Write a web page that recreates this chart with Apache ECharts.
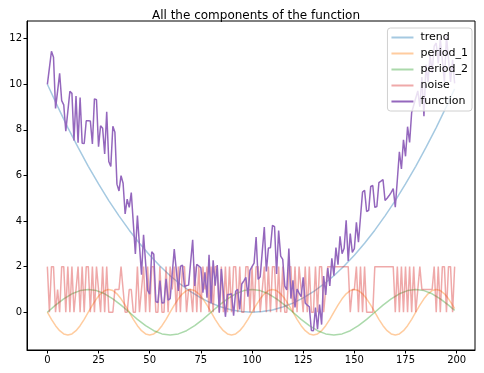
<!DOCTYPE html>
<html><head><meta charset="utf-8">
<script src="https://cdn.jsdelivr.net/npm/echarts@6/dist/echarts.min.js"></script>
<style>html,body{margin:0;padding:0;background:#fff}#c{width:484px;height:373px}</style>
</head><body><div id="c"></div>
<script>
const titleText = 'All the components of the function';
const seriesNames = ['trend', 'period_1', 'period_2', 'noise', 'function'];
const xTicks = [0, 25, 50, 75, 100, 125, 150, 175, 200];
const yTicks = [0, 2, 4, 6, 8, 10, 12];

const trendX = [0,5,10,15,20,25,30,35,40,45,50,55,60,65,70,75,80,85,90,95,100,105,110,115,120,125,130,135,140,145,150,155,160,165,170,175,180,185,190,195,199];
const trendY = [10,9.03,8.1,7.23,6.4,5.63,4.9,4.23,3.6,3.03,2.5,2.03,1.6,1.23,0.9,0.63,0.4,0.23,0.1,0.03,0,0.03,0.1,0.23,0.4,0.63,0.9,1.23,1.6,2.03,2.5,3.03,3.6,4.23,4.9,5.63,6.4,7.23,8.1,9.03,9.8];

const period1X = [0,2,4,6,8,10,12,14,16,18,20,22,24,26,28,30,32,34,36,38,40,42,44,46,48,50,52,54,56,58,60,62,64,66,68,70,72,74,76,78,80,82,84,86,88,90,92,94,96,98,100,102,104,106,108,110,112,114,116,118,120,122,124,126,128,130,132,134,136,138,140,142,144,146,148,150,152,154,156,158,160,162,164,166,168,170,172,174,176,178,180,182,184,186,188,190,192,194,196,198,199];
const period1Y = [
0,-0.31,-0.59,-0.81,-0.95,-1,-0.95,-0.81,-0.59,-0.31,0,0.31,0.59,0.81,0.95,1,0.95,0.81,0.59,0.31,
0,-0.31,-0.59,-0.81,-0.95,-1,-0.95,-0.81,-0.59,-0.31,0,0.31,0.59,0.81,0.95,1,0.95,0.81,0.59,0.31,
0,-0.31,-0.59,-0.81,-0.95,-1,-0.95,-0.81,-0.59,-0.31,0,0.31,0.59,0.81,0.95,1,0.95,0.81,0.59,0.31,
0,-0.31,-0.59,-0.81,-0.95,-1,-0.95,-0.81,-0.59,-0.31,0,0.31,0.59,0.81,0.95,1,0.95,0.81,0.59,0.31,
0,-0.31,-0.59,-0.81,-0.95,-1,-0.95,-0.81,-0.59,-0.31,0,0.31,0.59,0.81,0.95,1,0.95,0.81,0.59,0.31,
0.16];

const period2X = [0,4,8,12,16,20,24,28,32,36,40,44,48,52,56,60,64,68,72,76,80,84,88,92,96,100,104,108,112,116,120,124,128,132,136,140,144,148,152,156,160,164,168,172,176,180,184,188,192,196,199];
const period2Y = [
0,0.31,0.59,0.81,0.95,1,0.95,0.81,0.59,0.31,0,-0.31,-0.59,-0.81,-0.95,-1,-0.95,-0.81,-0.59,-0.31,
0,0.31,0.59,0.81,0.95,1,0.95,0.81,0.59,0.31,0,-0.31,-0.59,-0.81,-0.95,-1,-0.95,-0.81,-0.59,-0.31,
0,0.31,0.59,0.81,0.95,1,0.95,0.81,0.59,0.31,
0.08];

const noiseY = [
2,0,2,2,0,1,0,2,2,0,
2,0,2,0,1,2,0,2,0,2,
2,0,2,0,2,1,0,2,0,2,
0,0,0,1,1,1,2,1,0,0,
1,1,0,0,2,0,1,2,0,2,
0,2,2,0,0,2,0,0,2,0,
2,1,2,0,2,0,2,2,0,1,
1,0,2,0,2,0,2,1,2,0,
2,0,2,2,0,2,0,2,0,2,
0,2,2,0,2,0,0,2,2,0,
2,0,2,2,0,1,2,0,2,0,
2,2,0,2,0,2,0,0,2,2,
0,2,0,2,1,0,2,0,2,0,
0,2,0,2,2,0,1,2,2,2,
2,2,2,2,2,2,2,2,0,1,
1,2,0,2,0,2,0,0,0,0,
2,2,2,2,2,2,2,2,2,2,
0,2,0,2,0,2,0,2,0,2,
0,1,2,1,1,1,1,1,1,2,
0,2,0,2,2,0,2,2,0,2];

const functionY = [
10.00,10.72,11.45,11.19,8.94,9.70,10.48,9.28,9.10,7.94,
8.81,9.69,9.60,7.53,9.48,7.44,9.42,7.41,7.40,8.40,
8.40,8.39,7.38,9.36,9.32,7.26,8.18,8.07,6.94,8.79,
6.61,6.40,8.16,7.90,5.62,5.32,5.99,5.66,4.31,4.96,
4.60,5.25,3.90,2.56,4.24,2.94,1.65,3.40,2.17,0.96,
0.79,2.65,2.54,0.47,0.42,1.39,0.40,0.42,1.47,0.53,
0.60,1.68,2.77,1.85,0.93,2.01,2.07,1.13,1.17,1.19,
2.19,3.18,1.15,2.10,2.03,1.95,0.86,1.75,0.64,2.52,
0.40,2.28,1.17,2.07,-0.02,1.90,0.84,-0.20,0.78,0.78,
0.81,-0.15,0.92,1.01,0.12,1.24,1.38,1.53,0.68,1.84,
2.00,2.15,3.30,1.44,1.56,2.66,3.74,1.79,2.82,2.83,
3.81,3.76,1.68,3.58,2.46,2.32,1.15,0.98,2.79,0.60,
1.40,0.21,1.02,0.84,0.68,1.53,0.41,0.31,0.24,-0.80,
-0.81,0.21,-0.74,0.34,-0.54,1.59,0.76,1.94,1.15,2.37,
1.60,2.84,2.09,3.33,2.57,2.81,4.03,2.25,3.45,2.63,
2.79,3.94,3.07,4.18,5.27,5.35,4.42,4.47,5.52,5.56,
4.60,4.64,5.69,5.75,5.82,4.90,5.00,5.12,5.26,5.42,
4.61,5.81,7.04,6.29,7.56,6.84,8.14,7.45,8.76,9.08,
9.40,9.71,9.02,10.32,8.60,10.86,10.10,11.31,10.50,11.67,
11.81,10.92,12.00,11.06,10.10,12.12,11.11,10.10,11.07,10.04];

const colors = ['#1f77b4', '#ff7f0e', '#2ca02c', '#d62728', '#9467bd'];
const opacities = [0.4, 0.4, 0.4, 0.4, 1];

const pairs = (xs, ys) => ys.map((v, i) => [xs[i], v]);
const idxPairs = ys => ys.map((v, i) => [i, v]);

const font = 'DejaVu Sans';
const lineSeries = (k, data) => ({
  name: seriesNames[k], type: 'line', data, symbol: 'none', showSymbol: false, animation: false,
  lineStyle: { color: colors[k], width: 1.5, opacity: opacities[k] },
  itemStyle: { color: colors[k], opacity: opacities[k] }
});

const chart = echarts.init(document.getElementById('c'), null, { renderer: 'canvas' });
chart.setOption({
  animation: false,
  backgroundColor: '#fff',
  title: { text: titleText, left: 251, top: 5, textAlign: 'center',
    textStyle: { fontFamily: font, fontSize: 12, fontWeight: 'normal', color: '#000' } },
  grid: { left: 27, right: 9, top: 21, bottom: 23, show: true, borderColor: '#000', borderWidth: 1, containLabel: false },
  xAxis: { type: 'value', min: -9.95, max: 208.95,
    axisLine: { show: true, onZero: false, lineStyle: { color: '#000' } },
    axisTick: { show: true, length: 3.5, lineStyle: { color: '#000' }, customValues: xTicks },
    axisLabel: { color: '#000', fontFamily: font, fontSize: 10, margin: 5, customValues: xTicks },
    splitLine: { show: false } },
  yAxis: { type: 'value', min: -1.656, max: 12.776,
    axisLine: { show: true, onZero: false, lineStyle: { color: '#000' } },
    axisTick: { show: true, length: 3.5, lineStyle: { color: '#000' }, customValues: yTicks },
    axisLabel: { color: '#000', fontFamily: font, fontSize: 10, margin: 5, customValues: yTicks },
    splitLine: { show: false } },
  legend: {
    data: seriesNames.map((n, k) => ({ name: n, icon: 'rect',
      itemStyle: { color: colors[k], opacity: opacities[k] } })),
    orient: 'vertical', right: 12, top: 28,
    backgroundColor: 'rgba(255,255,255,0.8)', borderColor: '#d0d0d0', borderWidth: 1, borderRadius: 3,
    padding: [3, 4, 3, 4], itemGap: 3, itemWidth: 22, itemHeight: 2,
    textStyle: { fontFamily: font, fontSize: 11, color: '#000', lineHeight: 13, padding: [0, 0, 0, 2] }
  },
  series: [
    lineSeries(0, pairs(trendX, trendY)),
    lineSeries(1, pairs(period1X, period1Y)),
    lineSeries(2, pairs(period2X, period2Y)),
    lineSeries(3, idxPairs(noiseY)),
    lineSeries(4, idxPairs(functionY))
  ]
});
</script></body></html>
